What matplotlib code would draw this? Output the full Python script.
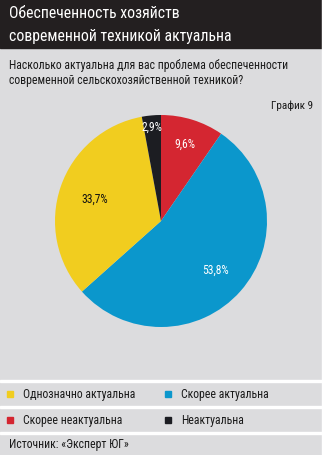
import numpy as np
import matplotlib
matplotlib.use("Agg")
import matplotlib.pyplot as plt
from matplotlib.patches import Rectangle

plt.rcParams['font.family'] = ['Roboto Condensed', 'PT Sans Narrow', 'Fira Sans Condensed',
                               'DejaVu Sans']
plt.rcParams['font.stretch'] = 'condensed'

# ---- data ----
title = "Обеспеченность хозяйств\nсовременной техникой актуальна"
question = "Насколько актуальна для вас проблема обеспеченности\nсовременной сельскохозяйственной техникой?"
chart_no = "График 9"
source = "Источник: «Эксперт ЮГ»"
labels = ["Скорее неактуальна", "Скорее актуальна", "Однозначно актуальна", "Неактуальна"]
values = [9.6, 53.8, 33.7, 2.9]
colors = ["#d42631", "#0b97cc", "#f1cd1f", "#1c1d22"]
label_colors = ["white", "white", "#111111", "white"]
label_r = [0.77, 0.69, 0.66, 0.90]

W, H = 324, 456
BG = "#dcdcde"
fig = plt.figure(figsize=(W / 100, H / 100), dpi=100)
fig.patch.set_facecolor(BG)

def fy(y):  # pixel row -> figure fraction
    return 1 - y / H

# header band, right white strip, separator lines
fig.patches.append(Rectangle((0, fy(49)), 1, 49 / H, transform=fig.transFigure,
                             color="#231f20", zorder=0))
fig.patches.append(Rectangle((322 / W, 0), 2 / W, 1, transform=fig.transFigure,
                             color="white", zorder=0))
for yl in (382, 408, 434):
    fig.patches.append(Rectangle((0, fy(yl) - 1 / H), 322 / W, 2 / H,
                                 transform=fig.transFigure, color="white", zorder=1))

fig.text(9 / W, fy(25), title, color="white", fontsize=11.3, va="center",
         ha="left", linespacing=1.6)
fig.text(9 / W, fy(73), question, color="#1a1a1a", fontsize=8.5, va="center",
         ha="left", linespacing=1.15)
fig.text(313 / W, fy(106), chart_no, color="#1a1a1a", fontsize=8, va="center", ha="right")

# ---- pie ----
cx, cy, R = 161, 222, 106
ax = fig.add_axes([(cx - R) / W, fy(cy + R), 2 * R / W, 2 * R / H])
ax.set_facecolor(BG)
wedges, _ = ax.pie(values, colors=colors, startangle=90, counterclock=False,
                   radius=1, wedgeprops=dict(linewidth=0))
ax.set_xlim(-1, 1); ax.set_ylim(-1, 1); ax.set_aspect("equal"); ax.axis("off")
for w, v, c, r in zip(wedges, values, label_colors, label_r):
    ang = np.deg2rad((w.theta1 + w.theta2) / 2)
    ax.text(r * np.cos(ang), r * np.sin(ang), f"{v:.1f}%".replace(".", ","),
            color=c, fontsize=8.3, ha="center", va="center")

# ---- legend ----
order = [2, 1, 0, 3]
pos = [(10, 395), (168, 395), (10, 421), (168, 421)]
for (x, y), i in zip(pos, order):
    fig.patches.append(Rectangle((x / W - 3 / W, fy(y) - 3 / H), 6 / W, 6 / H,
                                 transform=fig.transFigure, color=colors[i], zorder=2))
    fig.text((x + 13) / W, fy(y), labels[i], color="#1a1a1a", fontsize=8.5,
             va="center", ha="left")
fig.text(9 / W, fy(445), source, color="#1a1a1a", fontsize=8.5, va="center", ha="left")

fig.savefig("out.png", dpi=100, facecolor=BG)
